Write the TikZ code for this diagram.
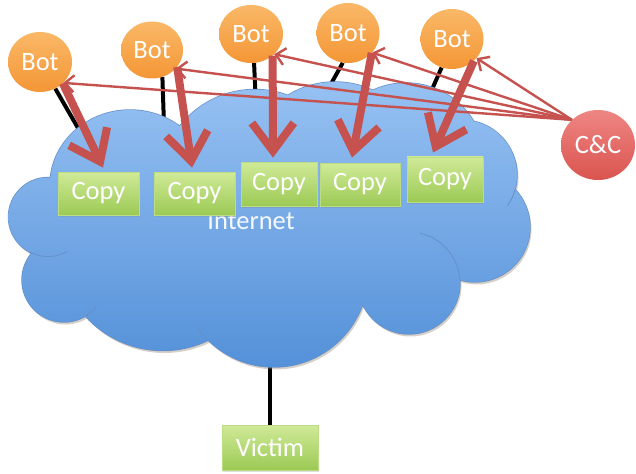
\documentclass[tikz,border=0pt]{standalone}
\usepackage{fontspec}
\setmainfont{Carlito}
\usetikzlibrary{arrows.meta,shapes.geometric,backgrounds,calc,shadows}
\definecolor{cloudtop}{HTML}{98C2F3}
\definecolor{cloudbot}{HTML}{5390D8}
\definecolor{cloudline}{HTML}{6590C8}
\definecolor{bottop}{HTML}{FAB867}
\definecolor{botbot}{HTML}{F49636}
\definecolor{cctop}{HTML}{EE8683}
\definecolor{ccbot}{HTML}{DA544F}
\definecolor{greentop}{HTML}{D0EA98}
\definecolor{greenbot}{HTML}{9CCA55}
\definecolor{greenline}{HTML}{BCDC84}
\definecolor{arrowred}{HTML}{C5524F}
\definecolor{cloudshadow}{HTML}{8C7A66}
\begin{document}
\begin{tikzpicture}[x=1pt,y=-1pt,
  lbl/.style={text=white, font=\fontsize{26.5}{30}\selectfont},
  botnode/.style={ellipse, lbl, inner sep=0pt, top color=bottop, bottom color=botbot},
  ccnode/.style={ellipse, lbl, inner sep=0pt, top color=cctop, bottom color=ccbot},
  copybox/.style={rectangle, lbl, inner sep=0pt, top color=greentop, bottom color=greenbot,
    draw=greenline, line width=0.8pt,
    drop shadow={opacity=0.25, shadow xshift=0.6pt, shadow yshift=-1.6pt}},
  cloudshape/.style={insert path={
    (130,185) ellipse [x radius=80, y radius=75]
    (48,217) circle [radius=39.5]
    (64,280) circle [radius=42]
    (163,246) circle [radius=104.5]
    (274,273) circle [radius=94]
    (409,283) circle [radius=51]
    (475,227) circle [radius=55]
    (462,175) circle [radius=55]
    (406,162) circle [radius=79]
    (335,172) circle [radius=90]
    (255,185) circle [radius=95.5]
    (280,215) ellipse [x radius=185, y radius=95]}},
  innerarc/.style={draw=cloudline, line width=0.8pt},
  wire/.style={draw=black, line width=4pt},
  bigarrow/.style={draw=arrowred, line width=8pt, -{Straight Barb[length=28pt,width=42pt]}},
  thinarrow/.style={draw=arrowred, line width=2.4pt, -{Straight Barb[length=9pt,width=17pt]}}
]
\useasboundingbox (0,0) rectangle (636,473);

% cloud
\begin{scope}[shift={(1.5,2.5)}]
  \fill[cloudshadow, opacity=0.35, cloudshape];
\end{scope}
\draw[cloudline, line width=1.4pt, cloudshape];
\begin{scope}
  \clip[cloudshape];
  \shade[top color=cloudtop, bottom color=cloudbot] (0,75) rectangle (545,372);
\end{scope}
\draw[innerarc] (48,217) ++(117:39.5) arc[start angle=117, end angle=61, radius=39.5];
\draw[innerarc] (64,280) ++(60:42) arc[start angle=60, end angle=40, radius=42];
\draw[innerarc] (274,273) ++(136:94) arc[start angle=136, end angle=146, radius=94];
\draw[innerarc] (409,283) ++(-77.6:51) arc[start angle=-77.6, end angle=-3.4, radius=51];
\draw[innerarc] (462,175) ++(15.5:55) arc[start angle=15.5, end angle=34, radius=55];

\node[text=white!90!cloudtop, font=\fontsize{26.5}{30}\selectfont] (inet) at (251,221) {Internet};

% boxes
\node[copybox, minimum width=81pt, minimum height=43pt] (c1) at (98.5,193.5) {Copy};
\node[copybox, minimum width=81pt, minimum height=43pt] (c2) at (194.5,193.5) {Copy};
\node[copybox, minimum width=76pt, minimum height=44pt] (c3) at (279,184) {Copy};
\node[copybox, minimum width=80pt, minimum height=43pt] (c4) at (360,184.5) {Copy};
\node[copybox, minimum width=76pt, minimum height=45pt] (c5) at (445,179.5) {Copy};
\node[copybox, minimum width=96pt, minimum height=45pt] (vic) at (270,447.5) {Victim};

% bots
\node[botnode, minimum width=64pt, minimum height=60pt] (b1) at (40,62) {Bot};
\node[botnode, minimum width=62pt, minimum height=57pt] (b2) at (152,50) {Bot};
\node[botnode, minimum width=64pt, minimum height=58pt] (b3) at (251,34) {Bot};
\node[botnode, minimum width=63pt, minimum height=60pt] (b4) at (348,33) {Bot};
\node[botnode, minimum width=63pt, minimum height=60pt] (b5) at (452,39) {Bot};
\node[ccnode, minimum width=74pt, minimum height=70pt] (cc) at (598,145) {C\&C};

\coordinate (k1) at (82,135);
\coordinate (k2) at (164,125);
\coordinate (k3) at (256,105);
\coordinate (k4) at (326.5,92);
\coordinate (k5) at (430,94);
\coordinate (k6) at (270,360);

\begin{scope}[on background layer]
  \fill[white] (0,0) rectangle (636,473);
  \draw[wire] (b1) -- (k1);
  \draw[wire] (b2.-69) -- (k2);
  \draw[wire] (b3.-84) -- (k3);
  \draw[wire] (b4.-100) -- (k4);
  \draw[wire] (b5.-110) -- (k5);
  \draw[wire] (k6) -- (vic.north);
\end{scope}

% thick arrows bot -> copy
\draw[bigarrow] (b1.-43) -- ($(c1.north)+(4.5,-4)$);
\draw[bigarrow] (b2.-34) -- ($(c2.north)+(-2.5,-4)$);
\draw[bigarrow] (b3.-45) -- ($(c3.north)+(-6,-4)$);
\draw[bigarrow] (b4.-40) -- ($(c4.north)+(-8,-5)$);
\draw[bigarrow] (b5.-45) -- ($(c5.north)+(-12,-4)$);

% thin arrows C&C -> bots
\draw[thinarrow] (cc.136) -- (b5.-38);
\draw[thinarrow] (cc.136) -- (b4.-39);
\draw[thinarrow] (cc.136) -- (b3.-41);
\draw[thinarrow] (cc.136) -- (b2.-38);
\draw[thinarrow] (cc.136) -- (b1.-42);
\end{tikzpicture}
\end{document}
